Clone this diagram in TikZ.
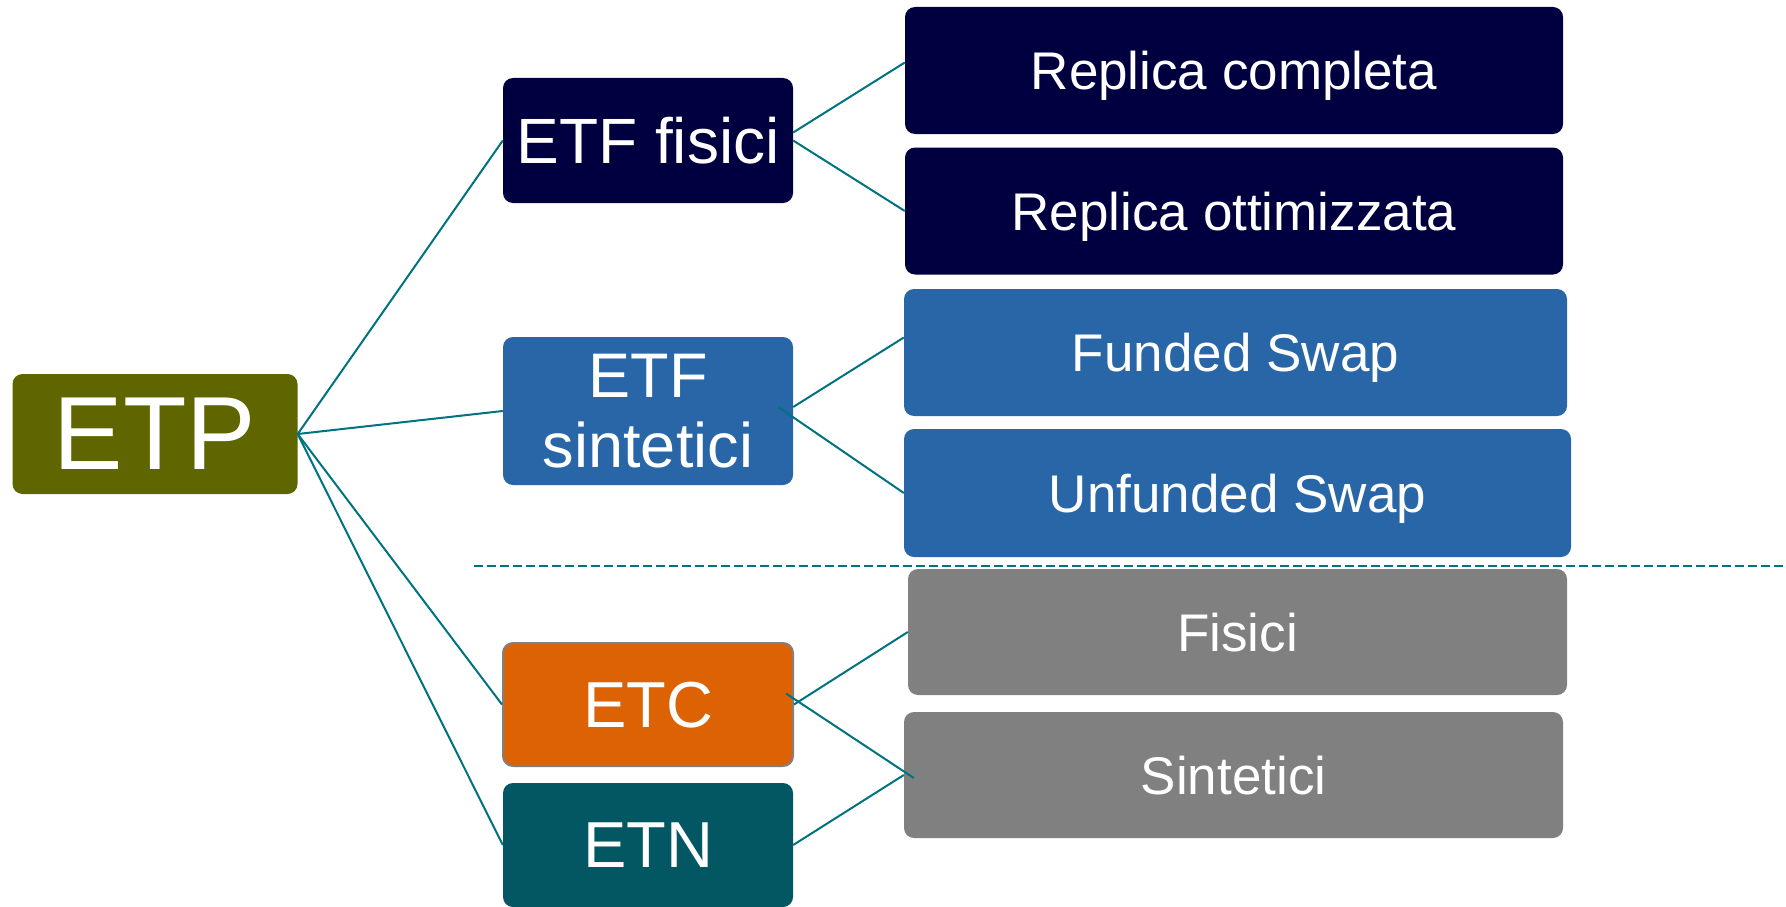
\documentclass[tikz,border=0pt]{standalone}
\usepackage{fontspec}
\setmainfont{Liberation Sans}
\definecolor{navyc}{RGB}{0,0,64}
\definecolor{bluec}{RGB}{40,102,168}
\definecolor{olivec}{RGB}{95,102,0}
\definecolor{orangec}{RGB}{221,98,4}
\definecolor{tealc}{RGB}{2,87,99}
\definecolor{grayc}{RGB}{128,128,128}
\definecolor{linec}{RGB}{0,115,128}
\tikzset{
  box/.style={rounded corners=10pt, inner sep=0pt, text=white, align=center},
  one/.style={text depth=0pt},
  mid/.style={box, minimum width=290pt, minimum height=125pt},
  leaf/.style={box, one, minimum height=127pt, font=\fontsize{53}{58}\selectfont},
  conn/.style={draw=linec, line width=2pt},
  sep/.style={draw=linec, line width=2pt, dash pattern=on 9pt off 4pt}
}
\begin{document}
\begin{tikzpicture}[x=1pt,y=-1pt]
\useasboundingbox (0,0) rectangle (1786,907);
% root
\node[box, one, fill=olivec, minimum width=285pt, minimum height=120pt,
  font=\fontsize{104}{110}\selectfont] (etp) at (155,434) {ETP};
% middle
\node[mid, one, fill=navyc, font=\fontsize{64}{70}\selectfont] (fis) at (648,140.5) {ETF fisici};
\node[mid, fill=bluec, minimum height=148pt, font=\fontsize{63}{70}\selectfont] (sin) at (648,411) {ETF\\sintetici};
\node[mid, one, fill=orangec, draw=grayc, line width=2pt, minimum height=123pt, font=\fontsize{65}{70}\selectfont] (etc) at (648,704.5) {ETC};
\node[mid, one, fill=tealc, minimum height=124pt, font=\fontsize{65}{70}\selectfont] (etn) at (648,845) {ETN};
% leaves
\node[leaf, fill=navyc, minimum width=658pt] (rc) at (1234,70.5) {Replica completa};
\node[leaf, fill=navyc, minimum width=658pt] (ro) at (1234,211) {Replica ottimizzata};
\node[leaf, fill=bluec, minimum width=663pt] (fs) at (1235.5,352.5) {Funded Swap};
\node[leaf, fill=bluec, minimum width=667pt, minimum height=128pt] (us) at (1237.5,493) {Unfunded Swap};
\node[leaf, fill=grayc, minimum width=659pt, minimum height=126pt] (fi) at (1237.5,632) {Fisici};
\node[leaf, fill=grayc, minimum width=659pt, minimum height=126pt] (st) at (1233.5,775) {Sintetici};
% separator
\coordinate (dashL) at (474,566);
\coordinate (dashR) at (1786,566);
\draw[sep] (dashL) -- (dashR);
% connectors
\draw[conn] (etp.east) -- (fis.west);
\draw[conn] (etp.east) -- (sin.west);
\draw[conn] (etp.east) -- (etc.west);
\draw[conn] (etp.east) -- (etn.west);
\draw[conn] ([yshift=8pt]fis.east) -- ([yshift=8pt]rc.west);
\draw[conn] (fis.east) -- (ro.west);
\draw[conn] ([yshift=4pt]sin.east) -- ([yshift=15pt]fs.west);
\draw[conn] ([xshift=-15pt,yshift=4pt]sin.east) -- (us.west);
\draw[conn] (etc.east) -- (fi.west);
\draw[conn] ([xshift=-8pt,yshift=11pt]etc.east) -- ([xshift=10pt,yshift=-3pt]st.west);
\draw[conn] (etn.east) -- (st.west);
\end{tikzpicture}
\end{document}
